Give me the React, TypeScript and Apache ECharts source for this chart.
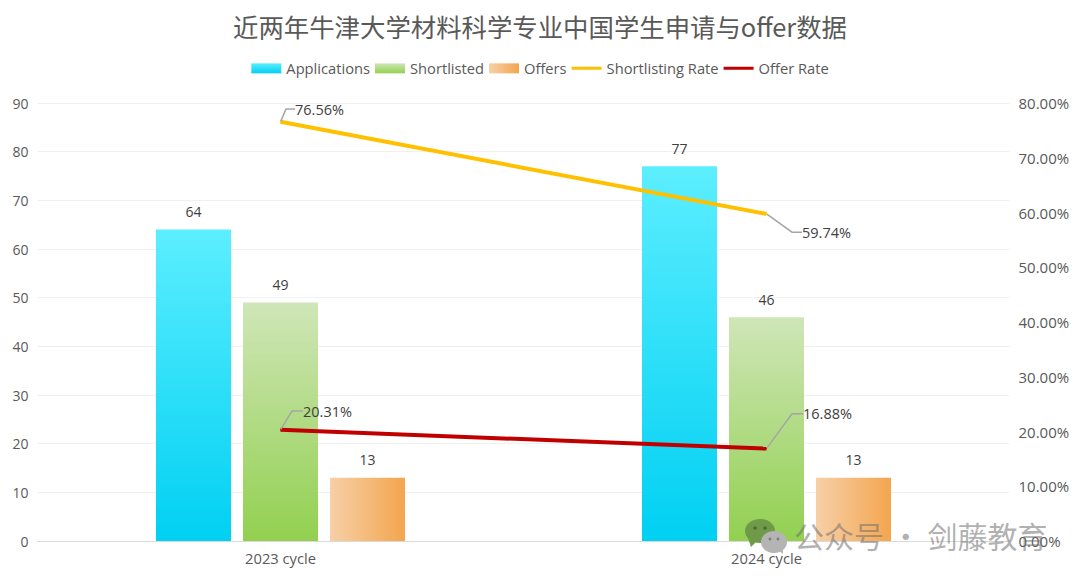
import React, { useEffect, useRef } from "react";
import * as echarts from "echarts";

const categories = ["2023 cycle", "2024 cycle"];
const applications = [64, 77];
const shortlisted = [49, 46];
const offers = [13, 13];
const shortlistingRate = [0.7656, 0.5974];
const offerRate = [0.2031, 0.1688];
const shortlistLabelShift = [
  { dx: 39, dy: 0, stub: 9 },
  { dx: 60, dy: 31, stub: 10 },
];
const offerLabelShift = [
  { dx: 47, dy: -6, stub: 11 },
  { dx: 61, dy: -22, stub: 11 },
];
const FONT = "'Open Sans', 'Noto Sans CJK SC', sans-serif";
const LINE_ICON = "path://M0 0L0 0ZM0 3.5H30V6.5H0ZM0 10L0 10Z";

const vGrad = (top: string, bottom: string) =>
  new echarts.graphic.LinearGradient(0, 0, 0, 1, [
    { offset: 0, color: top },
    { offset: 1, color: bottom },
  ]);
const hGrad = (l: string, r: string) =>
  new echarts.graphic.LinearGradient(0, 0, 1, 0, [
    { offset: 0, color: l },
    { offset: 1, color: r },
  ]);

const pct = (p: any) => (p.value * 100).toFixed(2) + "%";

const barLabel = {
  show: true,
  position: "top" as const,
  distance: 11,
  color: "#404040",
  fontSize: 14,
  fontFamily: FONT,
};

const lineSeries = (
  name: string,
  data: number[],
  color: string,
  shifts: { dx: number; dy: number; stub: number }[]
) => ({
  name,
  type: "line",
  yAxisIndex: 1,
  data: data.map((value, i) => ({
    value,
    symbol: "circle",
    symbolSize: 1,
    labelLine: { show: true, length2: shifts[i].stub, lineStyle: { color: "#a6a6a6", width: 1.5 } },
  })),
  symbol: "none",
  lineStyle: { color, width: 4 },
  itemStyle: { color },
  label: {
    show: true,
    position: "top",
    formatter: pct,
    color: "#404040",
    fontSize: 14.5,
    fontFamily: FONT,
    padding: [0, 4],
  },
  labelLine: {
    show: true,
    lineStyle: { color: "#a6a6a6", width: 1.5 },
  },
  labelLayout: (p: any) => ({ dx: shifts[p.dataIndex].dx, dy: shifts[p.dataIndex].dy, hideOverlap: false }),
  z: 5,
});

export default function App() {
  const ref = useRef<HTMLDivElement>(null);
  useEffect(() => {
    const chart = echarts.init(ref.current!, null, { renderer: "svg" });
    chart.setOption({
      animation: false,
      backgroundColor: "#ffffff",
      title: {
        text: "近两年牛津大学材料科学专业中国学生申请与offer数据",
        left: "center",
        top: 8,
        textStyle: { color: "#595959", fontSize: 25.4, fontWeight: "normal", fontFamily: "'Noto Sans CJK SC', sans-serif" },
      },
      legend: {
        top: 56,
        left: "center",
        itemWidth: 30,
        itemHeight: 10,
        itemGap: 5,
        textStyle: { color: "#595959", fontSize: 14.7, fontFamily: FONT },
        data: [
          { name: "Applications", icon: "rect" },
          { name: "Shortlisted", icon: "rect" },
          { name: "Offers", icon: "rect" },
          { name: "Shortlisting Rate", icon: LINE_ICON },
          { name: "Offer Rate", icon: LINE_ICON },
        ],
      },
      grid: { left: 37.5, right: 70.5, top: 103, bottom: 40, containLabel: false },
      xAxis: {
        type: "category",
        data: categories,
        axisTick: { show: false },
        axisLine: { lineStyle: { color: "#d9d9d9" } },
        axisLabel: { color: "#595959", fontSize: 14.7, fontFamily: FONT, margin: 10 },
      },
      yAxis: [
        {
          type: "value",
          min: 0,
          max: 90,
          interval: 10,
          axisLine: { show: false },
          axisTick: { show: false },
          splitLine: { lineStyle: { color: "#f0f0f0" } },
          axisLabel: { color: "#595959", fontSize: 14, fontFamily: FONT, margin: 9 },
        },
        {
          type: "value",
          min: 0,
          max: 0.8,
          interval: 0.1,
          axisLine: { show: false },
          axisTick: { show: false },
          splitLine: { show: false },
          axisLabel: {
            color: "#595959",
            fontSize: 15,
            fontFamily: FONT,
            margin: 9,
            formatter: (v: number) => (v * 100).toFixed(2) + "%",
          },
        },
      ],
      series: [
        { name: "Applications", type: "bar", data: applications, barWidth: 75, barGap: "16%", itemStyle: { color: vGrad("#5ceeff", "#00d0f2") }, label: barLabel },
        { name: "Shortlisted", type: "bar", data: shortlisted, barWidth: 75, barGap: "16%", itemStyle: { color: vGrad("#cfe6b8", "#92d050") }, label: barLabel },
        { name: "Offers", type: "bar", data: offers, barWidth: 75, barGap: "16%", itemStyle: { color: hGrad("#f6d0a8", "#f4a54e") }, label: barLabel },
        lineSeries("Shortlisting Rate", shortlistingRate, "#ffc000", shortlistLabelShift),
        lineSeries("Offer Rate", offerRate, "#c00000", offerLabelShift),
      ],
      graphic: [
        { type: "ellipse", shape: { cx: 760, cy: 531, rx: 15, ry: 12 }, style: { fill: "#6f9a4a" }, z: 50 },
        { type: "polygon", shape: { points: [[748, 538], [751, 547], [757, 541]] }, style: { fill: "#6f9a4a" }, z: 50 },
        { type: "ellipse", shape: { cx: 774, cy: 542, rx: 13, ry: 11 }, style: { fill: "#b4b4b4" }, z: 51 },
        { type: "polygon", shape: { points: [[778, 550], [783, 554], [783, 547]] }, style: { fill: "#b4b4b4" }, z: 51 },
        { type: "circle", shape: { cx: 755, cy: 528, r: 1.8 }, style: { fill: "#4d6d30" }, z: 52 },
        { type: "circle", shape: { cx: 765, cy: 528, r: 1.8 }, style: { fill: "#4d6d30" }, z: 52 },
        { type: "circle", shape: { cx: 770, cy: 539, r: 1.4 }, style: { fill: "#7a7a7a" }, z: 52 },
        { type: "circle", shape: { cx: 778, cy: 539, r: 1.4 }, style: { fill: "#7a7a7a" }, z: 52 },
        {
          type: "text",
          x: 794,
          y: 535,
          z: 50,
          style: {
            text: "公众号 · 剑藤教育",
            fill: "rgba(110,110,110,0.55)",
            font: "30px 'Noto Sans CJK SC', sans-serif",
            textVerticalAlign: "middle",
          },
        },
      ],
    });
    return () => chart.dispose();
  }, []);
  return <div ref={ref} style={{ position: "fixed", left: 0, top: 0, width: 1080, height: 581 }} />;
}
